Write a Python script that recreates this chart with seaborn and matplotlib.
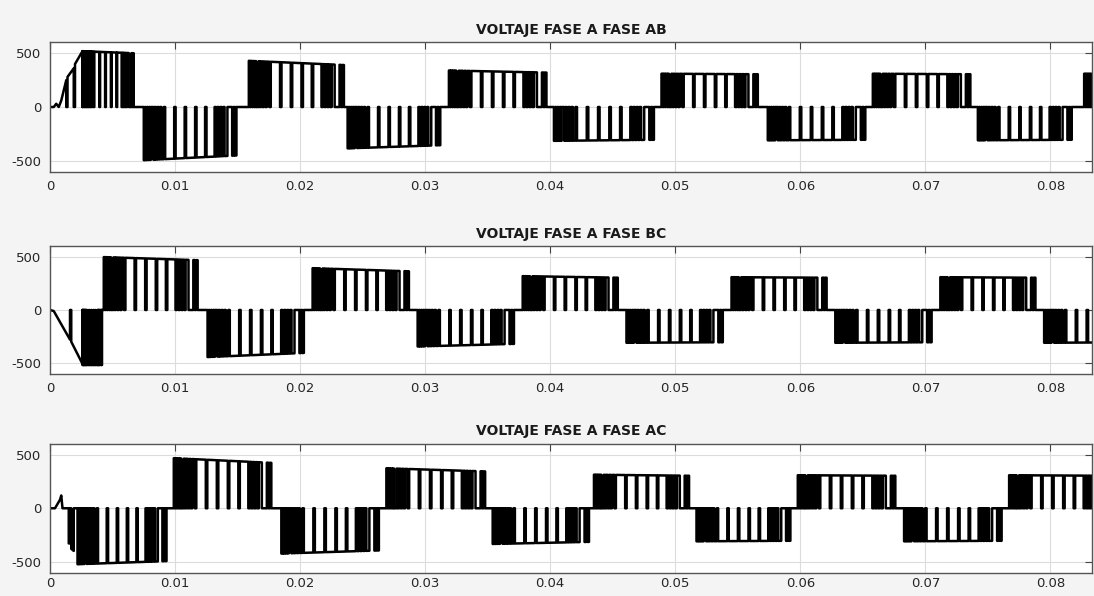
import numpy as np
import pandas as pd
import matplotlib
matplotlib.use("Agg")
import matplotlib.pyplot as plt
import seaborn as sns

T_END = 0.08333

# patrón de conmutación dentro de cada semiciclo (fracción del bloque)
pulse_on = [0.000, 0.022, 0.044, 0.066, 0.100, 0.125, 0.155, 0.185, 0.225, 0.335,
            0.445, 0.555, 0.660, 0.760, 0.790, 0.820, 0.850, 0.930, 0.960]
pulse_off = [0.012, 0.034, 0.056, 0.075, 0.112, 0.140, 0.170, 0.210, 0.320, 0.430,
             0.540, 0.645, 0.745, 0.775, 0.805, 0.835, 0.880, 0.945, 0.975]

# --- fase AB ---
ab_pre_t = [0.0, 0.0003, 0.0005, 0.0007, 0.0009, 0.0013, 0.0013, 0.0014, 0.0014,
            0.0019, 0.0019, 0.0020, 0.0020, 0.0026]
ab_pre_v = [0, 0, 30, 0, 60, 250, 0, 0, 280, 360, 0, 0, 400, 520]
ab_start = [0.0026, 0.0075, 0.0159, 0.0238, 0.0319, 0.0403, 0.0489, 0.0574, 0.0658, 0.0742, 0.0827]
ab_stop = [0.0068, 0.0151, 0.0237, 0.0314, 0.0399, 0.0485, 0.0568, 0.0654, 0.0738, 0.0819, 0.0906]
ab_lev_in = [520, -495, 430, -385, 340, -315, 310, -310, 310, -310, 310]
ab_lev_out = [500, -450, 390, -355, 320, -305, 305, -305, 305, -305, 305]

# --- fase BC ---
bc_pre_t = [0.0, 0.0003, 0.0016, 0.0016, 0.0017, 0.0017, 0.0026]
bc_pre_v = [0, -10, -280, 0, 0, -300, -510]
bc_start = [0.0026, 0.0043, 0.0126, 0.0210, 0.0294, 0.0378, 0.0461, 0.0545, 0.0628, 0.0712, 0.0795]
bc_stop = [0.0042, 0.0120, 0.0205, 0.0289, 0.0373, 0.0456, 0.0540, 0.0623, 0.0707, 0.0790, 0.0874]
bc_lev_in = [-520, 500, -445, 395, -345, 320, -310, 310, -310, 310, -310]
bc_lev_out = [-520, 470, -405, 365, -320, 305, -305, 305, -305, 305, -305]

# --- fase AC ---
ac_pre_t = [0.0, 0.0004, 0.0006, 0.0008, 0.0009, 0.0010, 0.0015, 0.0015, 0.0016, 0.0016,
            0.0017, 0.0017, 0.0019, 0.0019, 0.0022]
ac_pre_v = [0, 0, 40, 80, 120, 0, 0, -330, -330, 0, 0, -380, -400, 0, 0]
ac_start = [0.0022, 0.0099, 0.0185, 0.0269, 0.0354, 0.0435, 0.0517, 0.0598, 0.0683, 0.0767]
ac_stop = [0.0095, 0.0179, 0.0265, 0.0350, 0.0433, 0.0513, 0.0594, 0.0678, 0.0763, 0.0847]
ac_lev_in = [-525, 470, -425, 375, -335, 315, -310, 310, -310, 310]
ac_lev_out = [-495, 425, -395, 345, -315, 305, -305, 305, -305, 305]

titles = ["VOLTAJE FASE A FASE AB", "VOLTAJE FASE A FASE BC", "VOLTAJE FASE A FASE AC"]
x_ticks = [0, 0.01, 0.02, 0.03, 0.04, 0.05, 0.06, 0.07, 0.08]
x_labels = ["0", "0.01", "0.02", "0.03", "0.04", "0.05", "0.06", "0.07", "0.08"]
y_ticks = [-500, 0, 500]
y_labels = ["-500", "0", "500"]


def build_wave(pre_t, pre_v, starts, stops, lev_in, lev_out):
    t = list(pre_t)
    v = list(pre_v)
    for t0, t1, l0, l1 in zip(starts, stops, lev_in, lev_out):
        for a, b in zip(pulse_on, pulse_off):
            ta = t0 + a * (t1 - t0)
            tb = t0 + b * (t1 - t0)
            va = np.interp(ta, [t0, t1], [l0, l1])
            vb = np.interp(tb, [t0, t1], [l0, l1])
            t += [ta, ta, tb, tb]
            v += [0, va, vb, 0]
    t.append(0.095)
    v.append(0)
    return pd.DataFrame({"t": t, "v": v})


waves = [
    build_wave(ab_pre_t, ab_pre_v, ab_start, ab_stop, ab_lev_in, ab_lev_out),
    build_wave(bc_pre_t, bc_pre_v, bc_start, bc_stop, bc_lev_in, bc_lev_out),
    build_wave(ac_pre_t, ac_pre_v, ac_start, ac_stop, ac_lev_in, ac_lev_out),
]

sns.set_theme(style="white")
plt.rcParams["font.family"] = ["DejaVu Sans"]

fig = plt.figure(figsize=(10.94, 5.96), dpi=100, facecolor="#f4f4f4")
positions = [
    [0.0457, 0.7114, 0.9525, 0.2181],
    [0.0457, 0.3725, 0.9525, 0.2148],
    [0.0457, 0.0390, 0.9525, 0.2164],
]
x_pads = [6, 6, 3]

for pos, df, title, xpad in zip(positions, waves, titles, x_pads):
    ax = fig.add_axes(pos)
    ax.set_facecolor("white")
    sns.lineplot(data=df, x="t", y="v", sort=False, estimator=None,
                 color="black", linewidth=1.8, ax=ax)
    ax.set_xlim(0, T_END)
    ax.set_ylim(-605, 605)
    ax.set_xticks(x_ticks)
    ax.set_xticklabels(x_labels)
    ax.set_yticks(y_ticks)
    ax.set_yticklabels(y_labels)
    ax.set_xlabel("")
    ax.set_ylabel("")
    ax.grid(True, color="#dcdcdc", linewidth=0.8)
    ax.tick_params(direction="in", length=5, width=0.8, top=True, right=True,
                   colors="#444444", labelcolor="#262626", labelsize=9.5)
    ax.tick_params(axis="x", pad=xpad)
    ax.tick_params(axis="y", pad=6)
    for sp in ax.spines.values():
        sp.set_color("#555555")
        sp.set_linewidth(1.0)
    ax.set_title(title, fontsize=10, fontweight="bold", pad=6, color="#1a1a1a")

fig.savefig("out.png", dpi=100, facecolor=fig.get_facecolor())
